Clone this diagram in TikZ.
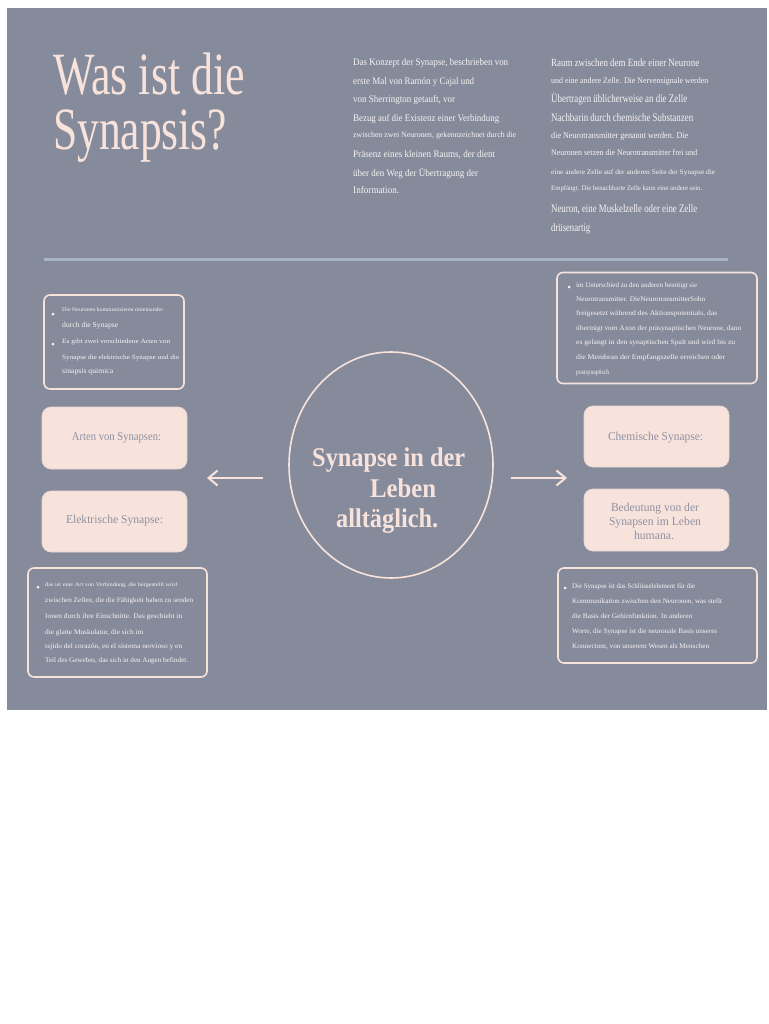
\documentclass[tikz,border=0pt]{standalone}
\usepackage{fontspec}
\usepackage{graphicx}
\setmainfont{Liberation Serif}
\usetikzlibrary{arrows.meta,shapes.geometric}
\definecolor{bg}{HTML}{868B9C}
\definecolor{pk}{HTML}{F8E3DC}
\definecolor{sepc}{HTML}{A8B5C5}
\definecolor{lt}{HTML}{8D91A3}
\definecolor{wt}{HTML}{F6F3F3}
% name, x, y, size, width, text ; optional colour
\newcommand\Ln[7][wt]{\node[anchor=base west,inner sep=0pt,text=#1] (#2) at (#3,#4) {\resizebox{#6pt}{\height}{\fontsize{#5}{#5}\selectfont #7}};}
\newcommand\Lc[7][lt]{\node[anchor=base,inner sep=0pt,text=#1] (#2) at (#3,#4) {\resizebox{#6pt}{\height}{\fontsize{#5}{#5}\selectfont #7}};}
\newcommand\Lb[7][pk]{\node[anchor=base west,inner sep=0pt,text=#1] (#2) at (#3,#4) {\resizebox{#6pt}{\height}{\fontsize{#5}{#5}\selectfont\bfseries #7}};}
\begin{document}
\begin{tikzpicture}[x=1pt,y=-1pt,
  pinkbox/.style={fill=pk,draw=pk!85!bg,line width=0.6pt,rounded corners=9pt,inner sep=0pt},
  obox/.style={draw=pk,line width=1.6pt,rounded corners=6pt,inner sep=0pt},
  bul/.style={circle,fill=wt,inner sep=0pt,minimum size=3pt},
  arr/.style={draw=pk,line width=2pt,-{Straight Barb[length=9pt,width=15pt,line width=2pt]}}]
\useasboundingbox (0,0) rectangle (768,1024);
\fill[white] (0,0) rectangle (768,1024);
\fill[bg] (7,8) rectangle (767,710);

% title
\Ln[pk]{t1}{53}{95}{60}{192}{Was ist die}
\Ln[pk]{t2}{53}{150}{60}{174}{Synapsis?}

% paragraph 1
\Ln{p1}{353}{66}{10}{155}{Das Konzept der Synapse, beschrieben von}
\Ln{p2}{353}{85}{10}{121}{erste Mal von Ramón y Cajal und}
\Ln{p3}{353}{103}{10}{102}{von Sherrington getauft, vor}
\Ln{p4}{353}{122}{10}{146}{Bezug auf die Existenz einer Verbindung}
\Ln{p5}{353}{138}{8}{163}{zwischen zwei Neuronen, gekennzeichnet durch die}
\Ln{p6}{353}{158}{10}{142}{Präsenz eines kleinen Raums, der dient}
\Ln{p7}{353}{177}{10}{125}{über den Weg der Übertragung der}
\Ln{p8}{353}{194}{10}{46}{Information.}

% paragraph 2
\Ln{q1}{551}{67}{11}{148}{Raum zwischen dem Ende einer Neurone}
\Ln{q2}{551}{84}{8.5}{157}{und eine andere Zelle. Die Nervensignale werden}
\Ln{q3}{551}{103}{11.5}{136}{Übertragen üblicherweise an die Zelle}
\Ln{q4}{551}{122}{11.5}{142}{Nachbarin durch chemische Substanzen}
\Ln{q5}{551}{139}{9}{137}{die Neurotransmitter genannt werden. Die}
\Ln{q6}{551}{156}{8.5}{146}{Neuronen setzen die Neurotransmitter frei und}
\Ln{q7}{551}{175}{7}{164}{eine andere Zelle auf der anderen Seite der Synapse die}
\Ln{q8}{551}{191}{7}{151}{Empfängt. Die benachbarte Zelle kann eine andere sein.}
\Ln{q9}{551}{213}{11.5}{146}{Neuron, eine Muskelzelle oder eine Zelle}
\Ln{q10}{551}{232}{11.5}{39}{drüsenartig}

% separator
\coordinate (s1) at (44,259.5);
\coordinate (s2) at (728,259.5);
\draw[sepc,line width=3pt] (s1) -- (s2);

% top-left box
\node[obox,minimum width=140pt,minimum height=94pt] (tlbox) at (114,342) {};
\node[bul] (tb1) at (53,314) {};
\node[bul] (tb2) at (53,344) {};
\Ln{a1}{62}{311}{5.5}{101}{Die Neuronen kommunizieren miteinander}
\Ln{a2}{62}{327}{7.5}{56}{durch die Synapse}
\Ln{a3}{62}{343}{6.5}{108}{Es gibt zwei verschiedene Arten von}
\Ln{a4}{62}{359}{6.5}{117}{Synapse die elektrische Synapse und die}
\Ln{a5}{62}{373}{7.5}{51}{sinapsis quimica}

% top-right box
\node[obox,minimum width=200pt,minimum height=111pt] (trbox) at (657,328) {};
\node[bul] (tb3) at (569,287) {};
\Ln{b1}{576}{287}{7}{121}{im Unterschied zu den anderen benötigt sie}
\Ln{b2}{576}{301}{7}{129}{Neurotransmitter. DieNeurotransmitterSohn}
\Ln{b3}{576}{315}{7}{141}{freigesetzt während des Aktionspotentials, das}
\Ln{b4}{576}{330}{7}{165}{überträgt vom Axon der präsynaptischen Neurone, dann}
\Ln{b5}{576}{344}{7}{159}{es gelangt in den synaptischen Spalt und wird bis zu}
\Ln{b6}{576}{359}{7}{149}{die Membran der Empfangszelle erreichen oder}
\Ln{b7}{576}{374}{7}{33}{postsynaptisch}

% pink boxes
\node[pinkbox,minimum width=145pt,minimum height=62pt] (arten) at (114.5,438) {};
\node[pinkbox,minimum width=145pt,minimum height=61pt] (elek) at (114.5,521.5) {};
\node[pinkbox,minimum width=145pt,minimum height=61pt] (chem) at (656.5,436.5) {};
\node[pinkbox,minimum width=145pt,minimum height=62pt] (bed) at (656.5,520) {};
\Lc{la}{116.5}{440}{12}{89}{Arten von Synapsen:}
\Lc{le}{114.5}{523}{12}{97}{Elektrische Synapse:}
\Lc{lc}{655.5}{440}{12}{95}{Chemische Synapse:}
\Lc{ld1}{655}{511}{12}{88}{Bedeutung von der}
\Lc{ld2}{655}{525}{12}{92}{Synapsen im Leben}
\Lc{ld3}{654}{539}{12}{40}{humana.}

% circle
\node[draw=pk,line width=1.6pt,ellipse,minimum width=204pt,minimum height=226pt,inner sep=0pt] (circ) at (391,465) {};
\Lb{c1}{312}{466}{27}{153}{Synapse in der}
\Lb{c2}{370}{497}{27}{66}{Leben}
\Lb{c3}{336}{527}{27}{102}{alltäglich.}

% arrows
\coordinate (la1) at (263,478);
\coordinate (la2) at (207,478);
\coordinate (ra1) at (511,478);
\coordinate (ra2) at (567,478);
\draw[arr] (la1) -- (la2);
\draw[arr] (ra1) -- (ra2);

% bottom-left box
\node[obox,minimum width=179pt,minimum height=109pt] (blbox) at (117.5,622.5) {};
\node[bul] (tb4) at (38,587) {};
\Ln{d1}{45}{586}{5.5}{132}{das ist eine Art von Verbindung, die hergestellt wird}
\Ln{d2}{45}{602}{7}{148}{zwischen Zellen, die die Fähigkeit haben zu senden}
\Ln{d3}{45}{618}{7}{137}{Ionen durch ihre Einschnitte. Das geschieht in}
\Ln{d4}{45}{634}{7}{98}{die glatte Muskulatur, die sich im}
\Ln{d5}{45}{648}{7}{137}{tejido del corazón, en el sistema nervioso y en}
\Ln{d6}{45}{662}{7}{143}{Teil des Gewebes, das sich in den Augen befindet.}

% bottom-right box
\node[obox,minimum width=199pt,minimum height=95pt] (brbox) at (657.5,615.5) {};
\node[bul] (tb5) at (565,588) {};
\Ln{e1}{572}{588}{7}{123}{Die Synapse ist das Schlüsselelement für die}
\Ln{e2}{572}{603}{7}{150}{Kommunikation zwischen den Neuronen, was stellt}
\Ln{e3}{572}{618}{7}{120}{die Basis der Gehirnfunktion. In anderen}
\Ln{e4}{572}{633}{7}{145}{Worte, die Synapse ist die neuronale Basis unseres}
\Ln{e5}{572}{648}{7}{137}{Konnectom, von unserem Wesen als Menschen}
\end{tikzpicture}
\end{document}
